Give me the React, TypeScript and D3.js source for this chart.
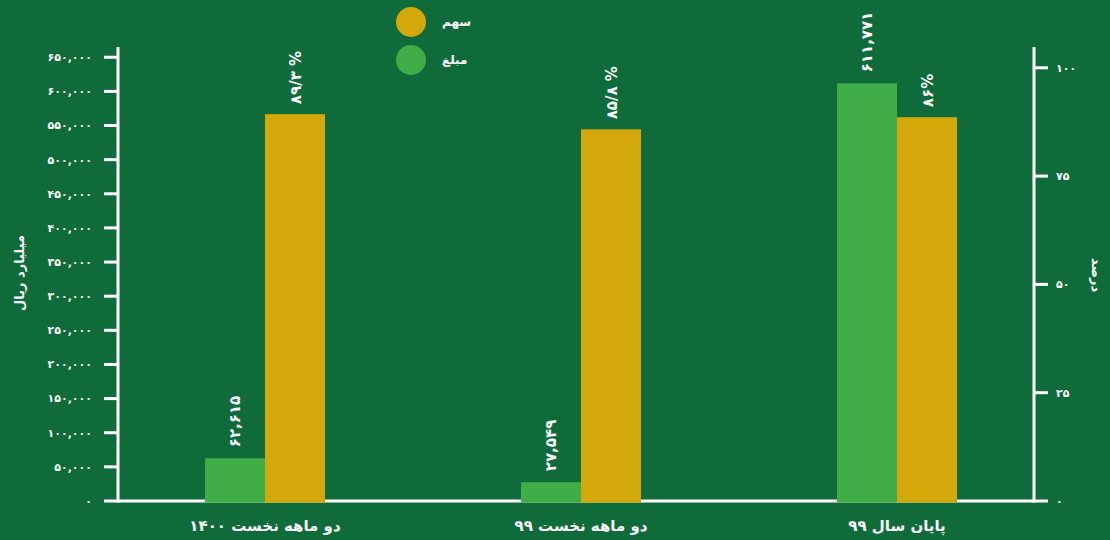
import React from "react";
import * as d3 from "d3";

const categories = ["دو ماهه نخست ۱۴۰۰", "دو ماهه نخست ۹۹", "پایان سال ۹۹"];
const amountValues = [62615, 27549, 611771];
const shareValues = [89.3, 85.8, 88.6];
const shareLabels = ["۸۹/۳ %", "۸۵/۸ %", "۸۶%"];
const leftTicks = [0, 50000, 100000, 150000, 200000, 250000, 300000, 350000, 400000, 450000, 500000, 550000, 600000, 650000];
const rightTicks = [0, 25, 50, 75, 100];
const seriesNames = ["سهم", "مبلغ"];
const leftTitle = "میلیارد ریال";
const rightTitle = "درصد";

const W = 1110;
const H = 540;
const BG = "#0f6c3a";
const GREEN = "#41ad49";
const YELLOW = "#d4a70a";
const FONT = "'DejaVu Sans', sans-serif";

const faDigits = "۰۱۲۳۴۵۶۷۸۹";
const toFa = (s: string) => s.replace(/[0-9]/g, (d) => faDigits[+d]);
const fmt = d3.format(",");

export default function App() {
  const x0 = 118;
  const x1 = 1034;
  const yBottom = 501;
  const yTop = 47;

  const xBand = d3.scaleBand<string>().domain(categories).range([107, 1055]).padding(0);
  const yLeft = d3.scaleLinear().domain([0, 665000]).range([yBottom, yTop]);
  const yRight = d3.scaleLinear().domain([0, 104.8]).range([yBottom, yTop]);
  const barW = 60;

  return (
    <svg
      width={W}
      height={H}
      style={{ position: "absolute", left: 0, top: 0, display: "block" }}
      fontFamily={FONT}
    >
      <rect x={0} y={0} width={W} height={H} fill={BG} />

      {/* baseline */}
      <line x1={x0} x2={x1} y1={yBottom} y2={yBottom} stroke="#fff" strokeWidth={3} />

      {/* left axis */}
      <line x1={x0} x2={x0} y1={yTop} y2={yBottom + 1.5} stroke="#fff" strokeWidth={3} />
      {leftTicks.map((t) => (
        <g key={"l" + t} transform={`translate(0,${yLeft(t)})`}>
          <line x1={x0 - 14} x2={x0} stroke="#fff" strokeWidth={3} />
          <text x={92} dy="0.35em" textAnchor="end" fill="#fff" fontSize={11} fontWeight="bold">
            {toFa(fmt(t))}
          </text>
        </g>
      ))}
      <text
        transform={`translate(19,273) rotate(-90)`}
        textAnchor="middle"
        dy="0.35em"
        fill="#fff"
        fontSize={13}
        fontWeight="bold"
      >
        {leftTitle}
      </text>

      {/* right axis */}
      <line x1={x1} x2={x1} y1={yTop} y2={yBottom + 1.5} stroke="#fff" strokeWidth={3} />
      {rightTicks.map((t) => (
        <g key={"r" + t} transform={`translate(0,${yRight(t)})`}>
          <line x1={x1} x2={x1 + 14} stroke="#fff" strokeWidth={3} />
          <text x={1056} dy="0.35em" textAnchor="start" fill="#fff" fontSize={11} fontWeight="bold">
            {toFa(String(t))}
          </text>
        </g>
      ))}
      <text
        transform={`translate(1097,275) rotate(90)`}
        textAnchor="middle"
        dy="0.35em"
        fill="#fff"
        fontSize={13}
        fontWeight="bold"
      >
        {rightTitle}
      </text>

      {/* bars */}
      {categories.map((c, i) => {
        const cx = (xBand(c) as number) + xBand.bandwidth() / 2;
        const ga = yLeft(amountValues[i]);
        const ys = yRight(shareValues[i]);
        return (
          <g key={c}>
            <rect x={cx - barW} y={ga} width={barW} height={yBottom + 1.5 - ga} fill={GREEN} />
            <rect x={cx} y={ys} width={barW} height={yBottom + 1.5 - ys} fill={YELLOW} />
            <text
              transform={`translate(${cx - barW / 2},${ga - 11}) rotate(-90)`}
              dy="0.35em"
              textAnchor="start"
              fill="#fff"
              fontSize={15}
              fontWeight="bold"
            >
              {toFa(fmt(amountValues[i]))}
            </text>
            <text
              transform={`translate(${cx + barW / 2 + 1},${ys - 10}) rotate(-90)`}
              dy="0.35em"
              textAnchor="start"
              fill="#fff"
              fontSize={15}
              fontWeight="bold"
            >
              {shareLabels[i]}
            </text>
            <text x={cx} y={531} textAnchor="middle" fill="#fff" fontSize={15} fontWeight="bold">
              {c}
            </text>
          </g>
        );
      })}

      {/* legend */}
      {seriesNames.map((n, i) => (
        <g key={n} transform={`translate(411,${22 + i * 38})`}>
          <circle r={15} fill={i === 0 ? YELLOW : GREEN} />
          <text x={31} dy="0.35em" textAnchor="start" fill="#fff" fontSize={12} fontWeight="bold">
            {n}
          </text>
        </g>
      ))}
    </svg>
  );
}
